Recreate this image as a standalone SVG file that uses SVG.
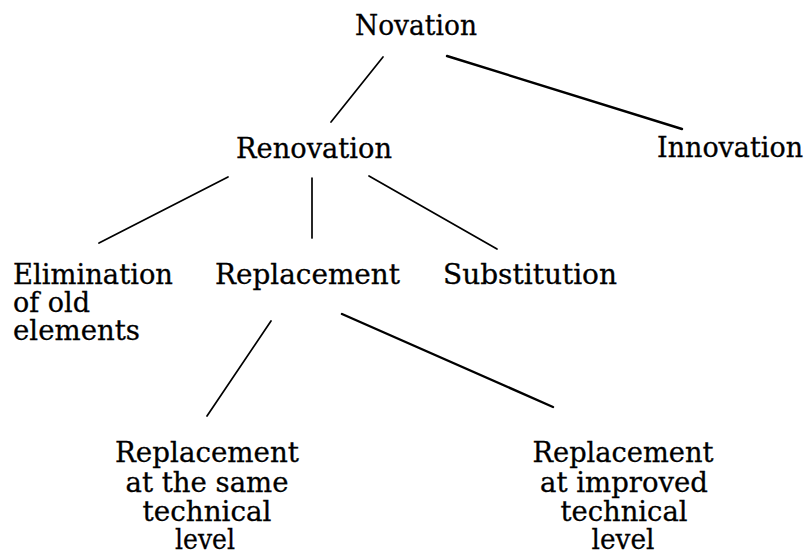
<svg xmlns="http://www.w3.org/2000/svg" width="808" height="555" viewBox="0 0 808 555">
<style>
  text { font-family: "DejaVu Serif", "Liberation Serif", serif; font-size: 27px; fill: #000; stroke: #000; stroke-width: 0.3; }
  .c { text-anchor: middle; }
  .e { stroke: #000; stroke-width: 1.7; stroke-linecap: round; fill: none; }
  .t { stroke-width: 2.4; }
</style>
<rect width="808" height="555" fill="#fff"/>
<g id="connectors">
  <line class="e" x1="383" y1="57" x2="331" y2="122"/>
  <line class="e t" x1="447" y1="56" x2="682" y2="129"/>
  <line class="e" x1="228" y1="177" x2="99" y2="243"/>
  <line class="e" x1="312" y1="178" x2="312" y2="238"/>
  <line class="e" x1="369" y1="176" x2="497" y2="249"/>
  <line class="e" x1="271" y1="321" x2="207" y2="416"/>
  <line class="e t" x1="342" y1="314" x2="553" y2="407"/>
</g>
<g id="novation"><text x="355" y="35" textLength="122" lengthAdjust="spacingAndGlyphs">Novation</text></g>
<g id="renovation"><text x="236" y="158" textLength="156" lengthAdjust="spacingAndGlyphs">Renovation</text></g>
<g id="innovation"><text x="657" y="157" textLength="146" lengthAdjust="spacingAndGlyphs">Innovation</text></g>
<g id="elimination">
  <text x="13" y="284" textLength="160" lengthAdjust="spacingAndGlyphs">Elimination</text>
  <text x="13" y="312" textLength="77" lengthAdjust="spacingAndGlyphs">of old</text>
  <text x="13" y="340" textLength="127" lengthAdjust="spacingAndGlyphs">elements</text>
</g>
<g id="replacement"><text x="215" y="284" textLength="185" lengthAdjust="spacingAndGlyphs">Replacement</text></g>
<g id="substitution"><text x="443" y="284" textLength="174" lengthAdjust="spacingAndGlyphs">Substitution</text></g>
<g id="replacement-same">
  <text class="c" x="207" y="462" textLength="184" lengthAdjust="spacingAndGlyphs">Replacement</text>
  <text class="c" x="207" y="492" textLength="163" lengthAdjust="spacingAndGlyphs">at the same</text>
  <text class="c" x="207" y="521" textLength="129" lengthAdjust="spacingAndGlyphs">technical</text>
  <text class="c" x="205" y="549" textLength="60" lengthAdjust="spacingAndGlyphs">level</text>
</g>
<g id="replacement-improved">
  <text class="c" x="623" y="462" textLength="181" lengthAdjust="spacingAndGlyphs">Replacement</text>
  <text class="c" x="624" y="492" textLength="168" lengthAdjust="spacingAndGlyphs">at improved</text>
  <text class="c" x="624" y="521" textLength="127" lengthAdjust="spacingAndGlyphs">technical</text>
  <text class="c" x="623" y="549" textLength="63" lengthAdjust="spacingAndGlyphs">level</text>
</g>
</svg>
